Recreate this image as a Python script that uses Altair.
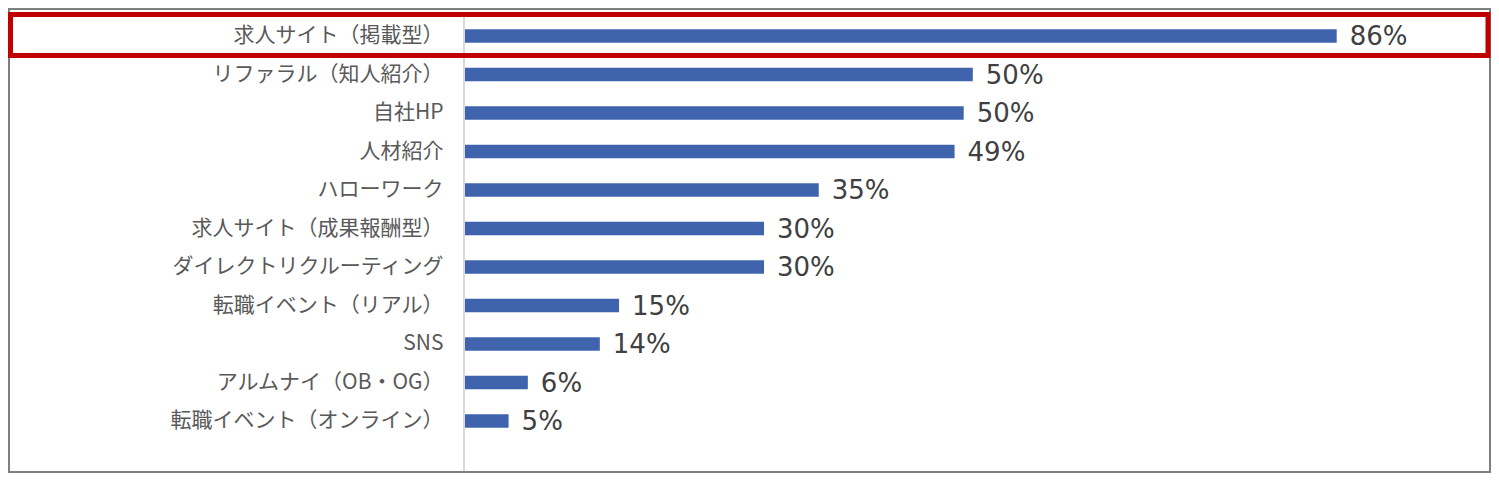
import altair as alt
import pandas as pd

categories = [
    "求人サイト（掲載型）",
    "リファラル（知人紹介）",
    "自社HP",
    "人材紹介",
    "ハローワーク",
    "求人サイト（成果報酬型）",
    "ダイレクトリクルーティング",
    "転職イベント（リアル）",
    "SNS",
    "アルムナイ（OB・OG）",
    "転職イベント（オンライン）",
]
values = [86, 50.1, 49.2, 48.3, 34.9, 29.5, 29.5, 15.2, 13.3, 6.2, 4.3]
value_labels = ["86%", "50%", "50%", "49%", "35%", "30%", "30%", "15%", "14%", "6%", "5%"]

df = pd.DataFrame({"cat": categories, "val": values, "lab": value_labels})
one = pd.DataFrame({"k": [0]})

W = 1027
H = 465

xscale = alt.Scale(domain=[0, 100], range=[1, 1014.6])
yscale = alt.Scale(domain=categories, range=[8.75, 432.25], paddingInner=0.65, paddingOuter=0.325)

axis_rule = alt.Chart(one).mark_rule(color="#D9D9D9", strokeWidth=2).encode(
    x=alt.value(0), y=alt.value(7), y2=alt.value(465)
)

bars = alt.Chart(df).mark_bar(color="#3F64AD").encode(
    x=alt.X("val:Q", scale=xscale, axis=None),
    y=alt.Y("cat:N", scale=yscale, sort=categories,
            axis=alt.Axis(title=None, domain=False, ticks=False, grid=False,
                          labelPadding=21, labelFont="Noto Sans CJK JP",
                          labelFontSize=21, labelColor="#595959", labelLimit=0)),
)

texts = alt.Chart(df).mark_text(
    align="left", baseline="middle", dx=13, dy=1, font="DejaVu Sans", fontSize=26, color="#404040"
).encode(
    x=alt.X("val:Q", scale=xscale),
    y=alt.Y("cat:N", scale=yscale, sort=categories),
    text="lab:N",
)

border = alt.Chart(one).mark_rect(fill="transparent", stroke="#7F7F7F", strokeWidth=2).encode(
    x=alt.value(-455), x2=alt.value(1026), y=alt.value(1), y2=alt.value(464)
)

redbox = alt.Chart(one).mark_rect(fill="transparent", stroke="#C00000", strokeWidth=5).encode(
    x=alt.value(-453.5), x2=alt.value(1024), y=alt.value(6.5), y2=alt.value(47.5)
)

chart = alt.layer(axis_rule, bars, texts, border, redbox).properties(
    width=W, height=H,
    padding={"left": 456, "top": 0, "right": 0, "bottom": 0},
    autosize=alt.AutoSizeParams(type="none"),
    background="white",
).configure_view(strokeWidth=0)

chart.save("out.html", embed_options={"renderer": "svg", "actions": False})
